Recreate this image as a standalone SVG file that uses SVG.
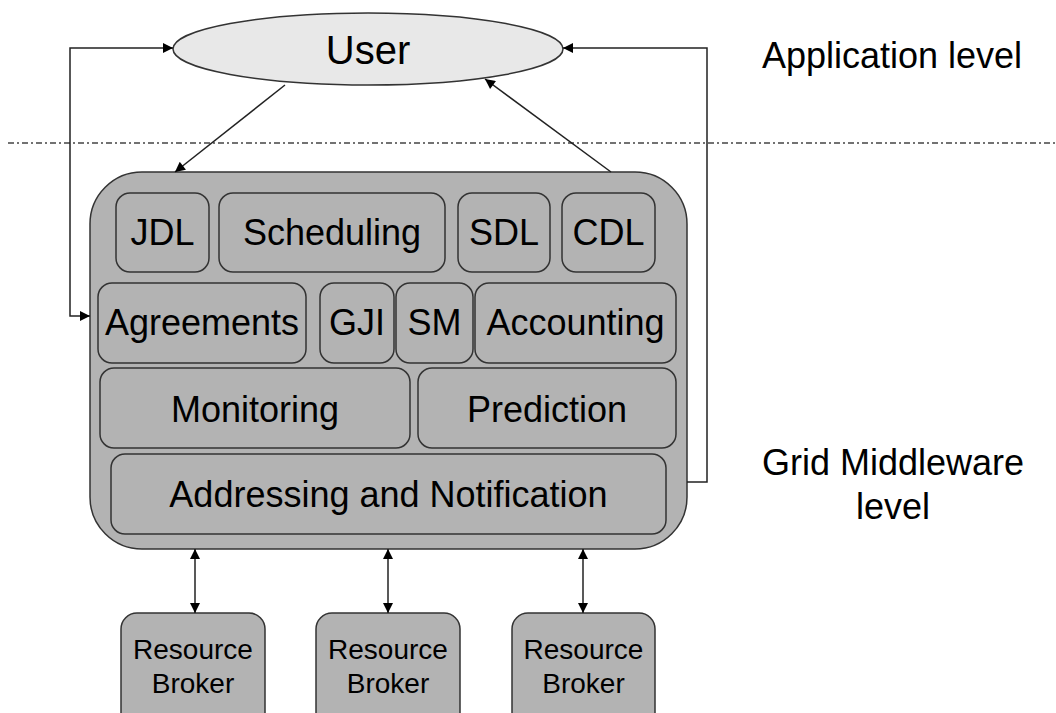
<svg xmlns="http://www.w3.org/2000/svg" width="1056" height="713" viewBox="0 0 1056 713">
<style>
text{font-family:"Liberation Sans",Arial,sans-serif;fill:#000;text-anchor:middle}
.box{fill:#b3b3b3;stroke:#333;stroke-width:1.5}
.lbl{font-size:36px}
.rb{font-size:28px}
.conn{fill:none;stroke:#222;stroke-width:1.5}
</style>
<defs>
<marker id="ah" viewBox="0 0 10 10" refX="10" refY="5" markerWidth="13" markerHeight="10" markerUnits="userSpaceOnUse" orient="auto-start-reverse">
<path d="M0,0 L10,5 L0,10 z" fill="#000"/>
</marker>
</defs>
<rect width="1056" height="713" fill="#fff"/>
<line x1="8" y1="143" x2="1056" y2="143" stroke="#444" stroke-width="1.5" stroke-dasharray="6 3 2 3"/>
<text x="892" y="68" class="lbl">Application level</text>
<text x="893" y="475" class="lbl">Grid Middleware</text>
<text x="893" y="519" class="lbl">level</text>
<g id="user">
<ellipse cx="368" cy="49" rx="195" ry="36" fill="#e8e8e8" stroke="#333" stroke-width="1.5"/>
<text x="368" y="64" font-size="40px">User</text>
</g>
<g id="middleware">
<rect x="90" y="172" width="597" height="377" rx="52" class="box"/>
</g>
<g id="jdl"><rect x="116" y="193" width="93" height="79" rx="14" class="box"/><text x="162.5" y="245" class="lbl">JDL</text></g>
<g id="scheduling"><rect x="219" y="193" width="226" height="79" rx="14" class="box"/><text x="332" y="245" class="lbl">Scheduling</text></g>
<g id="sdl"><rect x="458" y="193" width="92" height="79" rx="14" class="box"/><text x="504" y="245" class="lbl">SDL</text></g>
<g id="cdl"><rect x="562" y="193" width="93" height="79" rx="14" class="box"/><text x="608.5" y="245" class="lbl">CDL</text></g>
<g id="agreements"><rect x="98" y="283" width="208" height="80" rx="14" class="box"/><text x="202" y="335" class="lbl">Agreements</text></g>
<g id="gji"><rect x="320" y="283" width="74" height="80" rx="14" class="box"/><text x="357" y="335" class="lbl">GJI</text></g>
<g id="sm"><rect x="396" y="283" width="77" height="80" rx="14" class="box"/><text x="434.5" y="335" class="lbl">SM</text></g>
<g id="accounting"><rect x="475" y="283" width="201" height="80" rx="14" class="box"/><text x="575.5" y="335" class="lbl">Accounting</text></g>
<g id="monitoring"><rect x="100" y="368" width="310" height="80" rx="14" class="box"/><text x="255" y="422" class="lbl">Monitoring</text></g>
<g id="prediction"><rect x="418" y="368" width="258" height="80" rx="14" class="box"/><text x="547" y="422" class="lbl">Prediction</text></g>
<g id="addressing"><rect x="111" y="454" width="555" height="80" rx="14" class="box"/><text x="388.5" y="507" class="lbl">Addressing and Notification</text></g>
<g id="rb1"><rect x="121" y="613" width="144" height="120" rx="16" class="box"/><text x="193" y="659" class="rb">Resource</text><text x="193" y="693" class="rb">Broker</text></g>
<g id="rb2"><rect x="316" y="613" width="144" height="120" rx="16" class="box"/><text x="388" y="659" class="rb">Resource</text><text x="388" y="693" class="rb">Broker</text></g>
<g id="rb3"><rect x="512" y="613" width="143" height="120" rx="16" class="box"/><text x="583.5" y="659" class="rb">Resource</text><text x="583.5" y="693" class="rb">Broker</text></g>
<g id="connectors">
<line x1="285" y1="85" x2="175" y2="172" class="conn" marker-end="url(#ah)"/>
<line x1="611" y1="172" x2="485" y2="79" class="conn" marker-end="url(#ah)"/>
<polyline points="90,316 70,316 70,48 173,48" class="conn" marker-start="url(#ah)" marker-end="url(#ah)"/>
<polyline points="687,482 707,482 707,48 563,48" class="conn" marker-end="url(#ah)"/>
<line x1="195" y1="549" x2="195" y2="613" class="conn" marker-start="url(#ah)" marker-end="url(#ah)"/>
<line x1="388" y1="549" x2="388" y2="613" class="conn" marker-start="url(#ah)" marker-end="url(#ah)"/>
<line x1="583" y1="549" x2="583" y2="613" class="conn" marker-start="url(#ah)" marker-end="url(#ah)"/>
</g>
</svg>
